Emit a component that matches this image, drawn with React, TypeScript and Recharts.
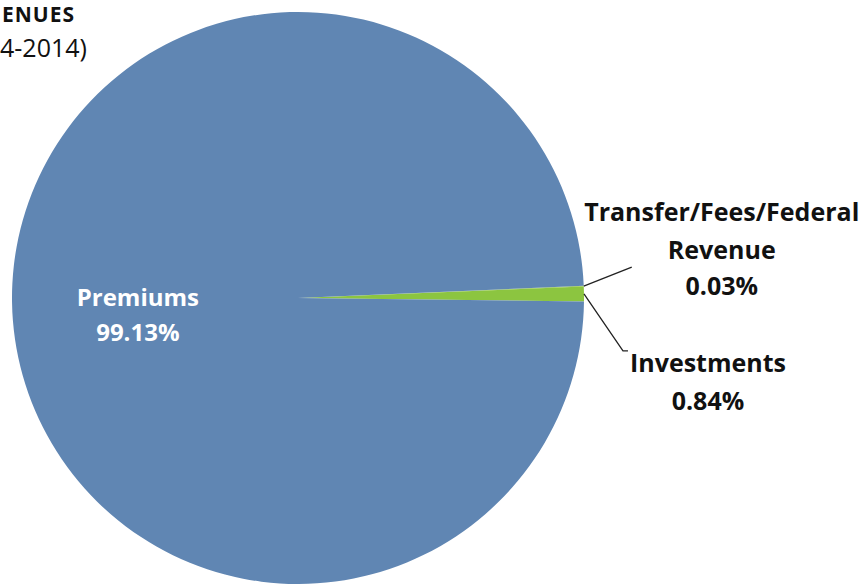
import { Cell, Pie, PieChart } from "recharts";

const CATEGORIES = ["Investments", "Transfer/Fees/Federal Revenue", "Premiums"];
const SHARES = [0.84, 0.03, 99.13];
const COLORS = ["#8cc540", "#93c748", "#6086b3"];
const TITLE_LINES = ["ENUES", "4-2014)"];

const data = CATEGORIES.map((name, i) => ({ name, value: SHARES[i] }));

const RAD = Math.PI / 180;
const FONT = "'Open Sans', Lato, sans-serif";

function renderLabel(props: any) {
  const { cx, cy, midAngle, outerRadius, index, name, value } = props;
  const ex = cx + outerRadius * Math.cos(-midAngle * RAD);
  const ey = cy + outerRadius * Math.sin(-midAngle * RAD);
  const pct = `${value.toFixed(2)}%`;

  if (name === "Premiums") {
    const r = outerRadius * 0.56;
    const x = cx + r * Math.cos(-midAngle * RAD);
    const y = cy + r * Math.sin(-midAngle * RAD);
    return (
      <g key={index}>
        <text x={x} y={y - 4} fill="#fff" fontSize={24} fontWeight={700} fontFamily={FONT} textAnchor="middle" dominantBaseline="central">
          Premiums
        </text>
        <text x={x} y={y + 31} fill="#fff" fontSize={24} fontWeight={700} fontFamily={FONT} textAnchor="middle" dominantBaseline="central">
          {pct}
        </text>
      </g>
    );
  }

  if (name === "Investments") {
    return (
      <g key={index}>
        <polyline points={`${ex},${ey} ${ex + 39},${ey + 57} ${ex + 44},${ey + 57}`} fill="none" stroke="#222" strokeWidth={1.3} />
        <text x={ex + 124} y={ey + 68} fill="#111" fontSize={25} fontWeight={700} fontFamily={FONT} textAnchor="middle" dominantBaseline="central">
          Investments
        </text>
        <text x={ex + 124} y={ey + 106} fill="#111" fontSize={25} fontWeight={700} fontFamily={FONT} textAnchor="middle" dominantBaseline="central">
          {pct}
        </text>
      </g>
    );
  }

  return (
    <g key={index}>
      <polyline points={`${ex},${ey} ${ex + 48},${ey - 19}`} fill="none" stroke="#222" strokeWidth={1.3} />
      <text x={ex + 138} y={ey - 75} fill="#111" fontSize={25} fontWeight={700} fontFamily={FONT} textAnchor="middle" dominantBaseline="central">
        Transfer/Fees/Federal
      </text>
      <text x={ex + 138} y={ey - 37} fill="#111" fontSize={25} fontWeight={700} fontFamily={FONT} textAnchor="middle" dominantBaseline="central">
        Revenue
      </text>
      <text x={ex + 138} y={ey - 1} fill="#111" fontSize={25} fontWeight={700} fontFamily={FONT} textAnchor="middle" dominantBaseline="central">
        {pct}
      </text>
    </g>
  );
}

export default function App() {
  return (
    <div style={{ position: "absolute", left: 0, top: 0, width: 868, height: 584, background: "#fff", overflow: "hidden" }}>
      <PieChart width={868} height={584} margin={{ top: 0, right: 0, bottom: 0, left: 0 }}>
        <Pie
          data={data}
          dataKey="value"
          nameKey="name"
          cx={298}
          cy={298}
          outerRadius={286}
          startAngle={-0.7}
          endAngle={359.3}
          stroke="none"
          label={renderLabel}
          labelLine={false}
          isAnimationActive={false}
        >
          {data.map((entry, i) => (
            <Cell key={entry.name} fill={COLORS[i]} />
          ))}
        </Pie>
      </PieChart>
      <div style={{ position: "absolute", left: 2, top: 0, fontFamily: FONT, color: "#111", fontSize: 21, lineHeight: "normal", fontWeight: 700, letterSpacing: 1 }}>
        {TITLE_LINES[0]}
      </div>
      <div style={{ position: "absolute", left: 0, top: 30, fontFamily: FONT, color: "#111", fontSize: 25, lineHeight: "34px" }}>
        {TITLE_LINES[1]}
      </div>
    </div>
  );
}
